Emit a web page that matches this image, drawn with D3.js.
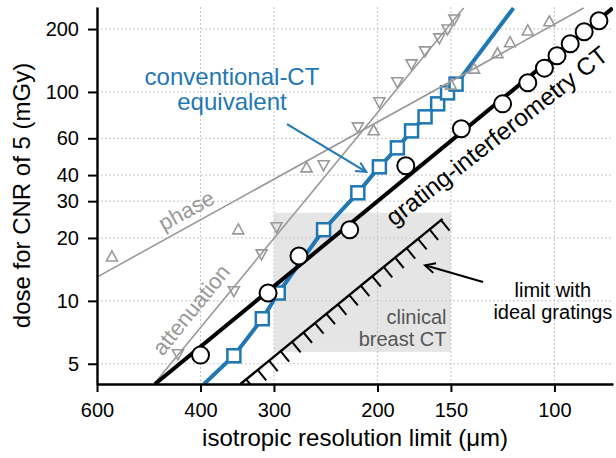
<!DOCTYPE html>
<html>
<head>
<meta charset="utf-8">
<script src="https://cdn.jsdelivr.net/npm/d3@7"></script>
<style>
  body { margin: 0; background: #fff; }
  text { font-family: "Liberation Sans", Arial, Helvetica, sans-serif; }
</style>
</head>
<body>
<svg id="chart" width="616" height="458"></svg>
<script>
// tick values
const xTicks = [600, 400, 300, 200, 150, 100];
const yTicks = [5, 10, 20, 30, 40, 60, 100, 200];

// grating-interferometry CT (circles)
const giRes  = [400, 307, 272, 223, 179, 144, 122.5, 111, 104, 99, 94, 89, 84];
const giDose = [5.5, 10.9, 16.4, 21.9, 44.3, 66.6, 87.7, 110.6, 130, 149, 170, 194, 219];
const giFitRes  = [478, 79.6];
const giFitDose = [4.0, 252];

// conventional-CT equivalent (squares)
const convRes  = [351, 314, 295, 247, 216, 198.5, 185, 175, 166, 158, 152, 147];
const convDose = [5.46, 8.21, 10.9, 21.9, 32.9, 43.8, 54, 65.1, 76, 87.7, 99, 109];
const convCurveRes  = [394.5, ...convRes, 117.4];
const convCurveDose = [4.0, ...convDose, 252];

// attenuation (down triangles)
const attRes  = [437, 351, 315, 297, 247, 216, 198.5, 185, 175, 166, 157, 152, 148];
const attDose = [5.52, 11.06, 16.6, 22.4, 44.3, 67.3, 88.7, 110.6, 134.8, 155.5, 179.5, 198, 221];
const attFitRes  = [480, 142.7];
const attFitDose = [4.0, 252];

// phase (up triangles)
const phaseRes  = [566, 345, 264, 203, 150, 137, 125, 119, 111, 102];
const phaseDose = [16.4, 22.1, 43.8, 65.9, 109, 130, 154, 174, 198, 219];
const phaseFitRes  = [600, 89.2];
const phaseFitDose = [13.0, 252];

// limit with ideal gratings
const limitRes  = [342, 155];
const limitDose = [4.0, 24.7];

// clinical breast CT region
const clinicalRes  = [300, 150];
const clinicalDose = [5.7, 26.4];

const margin = { top: 7, right: 3, bottom: 74, left: 97 },
      width = 616 - margin.left - margin.right,
      height = 458 - margin.top - margin.bottom;

const blue = "#1f77b4", gray = "#999999";

const svg = d3.select("#chart");
const g = svg.append("g").attr("transform", `translate(${margin.left},${margin.top})`);

const x = d3.scaleLog().domain([600, 79.5]).range([0, width]);
const y = d3.scaleLog().domain([4, 255]).range([height, 0]);

const zip = (a, b) => a.map((d, i) => [d, b[i]]);
const line = d3.line().x(d => x(d[0])).y(d => y(d[1]));

const defs = svg.append("defs");
defs.append("clipPath").attr("id", "clip")
    .append("rect").attr("width", width).attr("height", height);
["blue", "black"].forEach(c => {
  defs.append("marker")
      .attr("id", "arrow-" + c)
      .attr("viewBox", "-12 -7 14 14")
      .attr("refX", 0).attr("refY", 0)
      .attr("markerWidth", 14).attr("markerHeight", 14)
      .attr("markerUnits", "userSpaceOnUse")
      .attr("orient", "auto")
      .append("path")
      .attr("d", "M-10,-5L0,0L-10,5")
      .attr("fill", "none")
      .attr("stroke", c === "blue" ? blue : "#000")
      .attr("stroke-width", 2);
});

// clinical box
g.append("rect")
  .attr("x", x(clinicalRes[0]))
  .attr("y", y(clinicalDose[1]))
  .attr("width", x(clinicalRes[1]) - x(clinicalRes[0]))
  .attr("height", y(clinicalDose[0]) - y(clinicalDose[1]))
  .attr("fill", "#e5e5e5");

// grid
g.append("g").selectAll("line").data(yTicks).join("line")
  .attr("x1", 0).attr("x2", width)
  .attr("y1", d => y(d)).attr("y2", d => y(d))
  .attr("stroke", "#c6c6c6").attr("stroke-width", 1).attr("stroke-dasharray", "2,2");
g.append("g").selectAll("line").data(xTicks).join("line")
  .attr("x1", d => x(d)).attr("x2", d => x(d))
  .attr("y1", 0).attr("y2", height)
  .attr("stroke", "#c6c6c6").attr("stroke-width", 1).attr("stroke-dasharray", "2,2");

g.append("text")
  .attr("x", x(152.6)).attr("y", y(7.75))
  .attr("text-anchor", "end").attr("fill", "#555").style("font-size", "20px")
  .selectAll("tspan").data(["clinical", "breast CT"]).join("tspan")
  .attr("x", x(152.6)).attr("dy", (d, i) => i ? 22.5 : 0).text(d => d);

const plot = g.append("g").attr("clip-path", "url(#clip)");

// limit line with ticks
const lim = zip(limitRes, limitDose);
plot.append("path").attr("d", line(lim))
  .attr("fill", "none").attr("stroke", "#000").attr("stroke-width", 2.4);
{
  const x0 = x(lim[1][0]), y0 = y(lim[1][1]), x1 = x(lim[0][0]), y1 = y(lim[0][1]);
  const L = Math.hypot(x1 - x0, y1 - y0), ux = (x1 - x0) / L, uy = (y1 - y0) / L;
  // perpendicular pointing down-right
  const px = Math.abs(uy), py = Math.abs(ux);
  const ticks = d3.range(2, L + 20, 14.8);
  plot.append("g").selectAll("line").data(ticks).join("line")
    .attr("x1", s => x0 + ux * s).attr("y1", s => y0 + uy * s)
    .attr("x2", s => x0 + ux * s + px * 13.5)
    .attr("y2", s => y0 + uy * s + py * 13.5)
    .attr("stroke", "#000").attr("stroke-width", 2);
}

// blue conventional-CT
plot.append("path").attr("d", line(zip(convCurveRes, convCurveDose)))
  .attr("fill", "none").attr("stroke", blue).attr("stroke-width", 4);
plot.append("g").selectAll("rect").data(zip(convRes, convDose)).join("rect")
  .attr("x", d => x(d[0]) - 6.5).attr("y", d => y(d[1]) - 6.5)
  .attr("width", 13).attr("height", 13)
  .attr("fill", "#fff").attr("stroke", blue).attr("stroke-width", 2.5);

// gray attenuation & phase
plot.append("path").attr("d", line(zip(attFitRes, attFitDose)))
  .attr("fill", "none").attr("stroke", gray).attr("stroke-width", 1.6);
plot.append("path").attr("d", line(zip(phaseFitRes, phaseFitDose)))
  .attr("fill", "none").attr("stroke", gray).attr("stroke-width", 1.6);
plot.append("g").selectAll("path").data(zip(attRes, attDose)).join("path")
  .attr("transform", d => `translate(${x(d[0])},${y(d[1])})`)
  .attr("d", "M0,5L5.5,-5L-5.5,-5Z")
  .attr("fill", "none").attr("stroke", gray).attr("stroke-width", 1.6);
plot.append("g").selectAll("path").data(zip(phaseRes, phaseDose)).join("path")
  .attr("transform", d => `translate(${x(d[0])},${y(d[1])})`)
  .attr("d", "M0,-5L5.5,5L-5.5,5Z")
  .attr("fill", "none").attr("stroke", gray).attr("stroke-width", 1.6);

// black grating-interferometry
plot.append("path").attr("d", line(zip(giFitRes, giFitDose)))
  .attr("fill", "none").attr("stroke", "#000").attr("stroke-width", 4);
plot.append("g").selectAll("circle").data(zip(giRes, giDose)).join("circle")
  .attr("cx", d => x(d[0])).attr("cy", d => y(d[1])).attr("r", 8.5)
  .attr("fill", "#fff").attr("stroke", "#000").attr("stroke-width", 2);

// axes
const xAxis = g.append("g").attr("transform", `translate(0,${height})`)
  .call(d3.axisBottom(x).tickValues(xTicks).tickFormat(d3.format("d"))
        .tickSize(8).tickSizeOuter(0).tickPadding(11));
const yAxis = g.append("g")
  .call(d3.axisLeft(y).tickValues(yTicks).tickFormat(d3.format("d"))
        .tickSize(9).tickSizeOuter(0).tickPadding(9));
[xAxis, yAxis].forEach(a => {
  a.select(".domain").attr("stroke-width", 2.4);
  a.selectAll(".tick line").attr("stroke-width", 2);
  a.selectAll(".tick text").style("font-size", "20px").attr("fill", "#000")
    .style("font-family", '"Liberation Sans", Arial, sans-serif');
});

svg.append("text")
  .attr("x", margin.left + width / 2).attr("y", 446)
  .attr("text-anchor", "middle").style("font-size", "24px")
  .text("isotropic resolution limit (μm)");
svg.append("text")
  .attr("transform", `translate(30,${margin.top + height / 2}) rotate(-90)`)
  .attr("text-anchor", "middle").style("font-size", "24px")
  .text("dose for CNR of 5 (mGy)");

// annotations
g.append("text")
  .attr("fill", blue).attr("text-anchor", "middle").style("font-size", "24px")
  .selectAll("tspan").data([["conventional-CT", 108], ["equivalent", 82]]).join("tspan")
  .attr("x", x(353.6)).attr("y", d => y(d[1])).text(d => d[0]);
g.append("line")
  .attr("x1", x(285)).attr("y1", y(70.2)).attr("x2", x(209)).attr("y2", y(41.4))
  .attr("stroke", blue).attr("stroke-width", 2).attr("marker-end", "url(#arrow-blue)");

g.append("text")
  .attr("text-anchor", "middle").style("font-size", "20px")
  .selectAll("tspan").data([["limit with", 0], ["ideal gratings", 22]]).join("tspan")
  .attr("x", x(100.6)).attr("y", y(10.4)).attr("dy", d => d[1]).text(d => d[0]);
g.append("line")
  .attr("x1", x(132.3)).attr("y1", y(12.3)).attr("x2", x(166)).attr("y2", y(14.8))
  .attr("stroke", "#000").attr("stroke-width", 2).attr("marker-end", "url(#arrow-black)");

g.append("text")
  .attr("transform", `translate(${x(187.4)},${y(22.6)}) rotate(-38)`)
  .style("font-size", "24.5px").text("grating-interferometry CT");
g.append("text")
  .attr("transform", `translate(${x(416.8)},${y(25.2)}) rotate(-29)`)
  .attr("text-anchor", "middle").attr("fill", gray).style("font-size", "22px")
  .text("phase");
g.append("text")
  .attr("transform", `translate(${x(405.5)},${y(8.6)}) rotate(-51)`)
  .attr("text-anchor", "middle").attr("fill", gray).style("font-size", "22px")
  .text("attenuation");
</script>
</body>
</html>
